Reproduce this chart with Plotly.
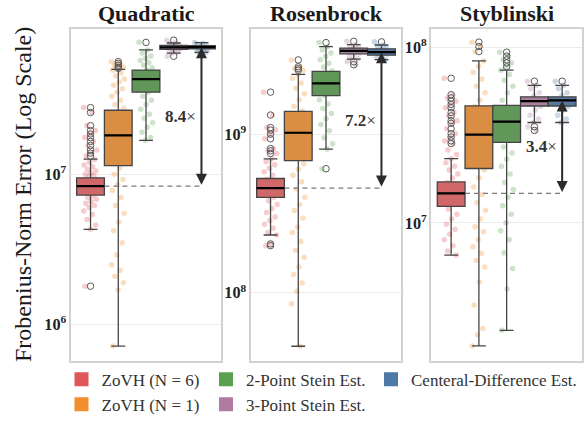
import math
import plotly.graph_objects as go

# ---------------- data ----------------
panel_titles = ["Quadratic", "Rosenbrock", "Styblinski"]
method_names = ["ZoVH (N = 6)", "ZoVH (N = 1)", "2-Point Stein Est.",
                "3-Point Stein Est.", "Centeral-Difference Est."]
speedup_labels = ["8.4", "7.2", "3.4"]

q1_vals = [
    [7.26e6, 1.14e7, 3.51e7, 6.76e7, 6.80e7],
    [3.99e8, 6.81e8, 1.75e9, 3.21e9, 3.15e9],
    [1.24e7, 2.04e7, 2.87e7, 4.63e7, 4.63e7],
]
median_vals = [
    [8.32e6, 1.81e7, 4.28e7, 6.97e7, 6.99e7],
    [4.57e8, 1.02e9, 2.09e9, 3.35e9, 3.29e9],
    [1.47e7, 3.18e7, 3.77e7, 4.93e7, 4.98e7],
]
q3_vals = [
    [9.46e6, 2.66e7, 4.92e7, 7.17e7, 7.15e7],
    [5.25e8, 1.39e9, 2.49e9, 3.49e9, 3.45e9],
    [1.71e7, 4.64e7, 4.67e7, 5.22e7, 5.22e7],
]
lower_whisker = [
    [4.3e6, 7.2e5, 1.68e7, 6.38e7, 6.45e7],
    [2.31e8, 4.59e7, 8.05e8, 2.97e9, 2.95e9],
    [6.55e6, 1.99e6, 2.44e6, 3.73e7, 3.73e7],
]
upper_whisker = [
    [1.26e7, 4.97e7, 6.70e7, 7.45e7, 7.50e7],
    [6.98e8, 2.38e9, 3.56e9, 3.67e9, 3.65e9],
    [2.32e7, 8.36e7, 7.41e7, 6.07e7, 6.07e7],
]

quad_outliers = [
    [2.77e7, 2.57e7, 2.1e7, 1.95e7, 1.85e7, 1.75e7, 1.65e7, 1.55e7, 1.45e7, 1.38e7, 1.32e7, 1.8e6],
    [5.6e7, 5.45e7, 5.3e7, 5.15e7, 5.05e7],
    [7.52e7],
    [7.78e7, 6.08e7],
    [],
]
rosen_outliers = [
    [1.84e9, 1.32e9, 1.10e9, 1.06e9, 1.0e9, 9.35e8, 8.11e8, 7.85e8, 7.55e8, 2.03e8, 1.98e8],
    [2.94e9, 2.66e9, 2.59e9, 2.53e9],
    [3.78e9, 6.05e8],
    [3.85e9, 2.86e9, 2.74e9],
    [3.82e9],
]
styb_outliers = [
    [6.66e7, 5.37e7, 5.15e7, 4.93e7, 4.72e7, 4.53e7, 4.25e7, 4.07e7, 3.82e7, 3.69e7,
     3.43e7, 3.22e7, 3.08e7, 2.93e7, 2.83e7],
    [1.07e8, 1.01e8, 9.45e7],
    [9.38e7, 8.91e7, 8.49e7, 8.14e7, 7.74e7],
    [6.41e7, 3.53e7, 3.36e7],
    [6.41e7],
]

quad_points = [
    [2.77e7, 2.57e7, 2.1e7, 1.95e7, 1.85e7, 1.75e7, 1.65e7, 1.55e7, 1.45e7, 1.38e7, 1.32e7,
     1.25e7, 1.2e7, 1.15e7, 1.12e7, 1.08e7, 1.05e7, 1.02e7, 1.0e7, 9.8e6, 9.6e6, 9.2e6, 8.8e6,
     8.5e6, 8.1e6, 7.8e6, 7.5e6, 7.2e6, 7.0e6, 6.8e6, 6.6e6, 6.4e6, 6.2e6, 6.0e6, 5.7e6,
     5.4e6, 5.0e6, 4.6e6, 4.3e6, 1.8e6],
    [5.6e7, 5.45e7, 5.3e7, 5.15e7, 5.05e7, 4.9e7, 4.7e7, 4.5e7, 4.3e7, 4.1e7, 3.9e7, 3.7e7,
     3.5e7, 3.3e7, 3.1e7, 2.9e7, 2.75e7, 2.5e7, 2.2e7, 1.9e7, 1.6e7, 1.3e7, 1.1e7, 1.0e7,
     9.2e6, 8.5e6, 7.8e6, 7.0e6, 6.2e6, 5.5e6, 4.8e6, 4.2e6, 3.5e6, 2.9e6, 2.5e6, 2.3e6,
     2.1e6, 1.9e6, 1.7e6, 7.2e5],
    [7.52e7, 6.7e7, 6.4e7, 6.1e7, 5.9e7, 5.7e7, 5.5e7, 5.3e7, 5.1e7, 4.9e7, 4.6e7, 4.3e7,
     4.0e7, 3.7e7, 3.5e7, 3.3e7, 3.1e7, 2.9e7, 2.7e7, 2.5e7, 2.35e7, 2.2e7, 2.05e7, 1.9e7,
     1.75e7, 1.68e7],
    [7.78e7, 7.5e7, 7.4e7, 7.3e7, 7.2e7, 7.1e7, 7.0e7, 6.9e7, 6.8e7, 6.7e7, 6.6e7, 6.5e7,
     6.4e7, 6.08e7],
    [7.5e7, 7.4e7, 7.3e7, 7.2e7, 7.1e7, 7.0e7, 6.9e7, 6.8e7, 6.7e7, 6.6e7, 6.5e7, 6.45e7],
]
rosen_points = [
    [1.84e9, 1.32e9, 1.10e9, 1.06e9, 1.0e9, 9.35e8, 8.11e8, 7.85e8, 7.55e8, 6.98e8, 6.7e8,
     6.4e8, 6.1e8, 5.8e8, 5.5e8, 5.2e8, 4.9e8, 4.6e8, 4.3e8, 4.0e8, 3.8e8, 3.6e8, 3.4e8,
     3.2e8, 3.0e8, 2.85e8, 2.7e8, 2.55e8, 2.4e8, 2.31e8, 2.03e8, 1.98e8],
    [2.94e9, 2.66e9, 2.59e9, 2.53e9, 2.38e9, 2.25e9, 2.1e9, 1.95e9, 1.8e9, 1.65e9, 1.5e9,
     1.4e9, 1.2e9, 1.0e9, 8.5e8, 7.0e8, 6.5e8, 6.0e8, 5.5e8, 5.0e8, 4.5e8, 4.0e8, 3.6e8,
     3.3e8, 2.95e8, 2.6e8, 2.4e8, 2.1e8, 1.85e8, 1.67e8, 1.45e8, 1.3e8, 1.15e8, 1.02e8,
     8.5e7, 4.59e7],
    [3.78e9, 3.56e9, 3.4e9, 3.25e9, 3.1e9, 2.95e9, 2.8e9, 2.65e9, 2.5e9, 2.3e9, 2.1e9,
     1.9e9, 1.75e9, 1.65e9, 1.55e9, 1.45e9, 1.35e9, 1.25e9, 1.15e9, 1.05e9, 9.5e8, 8.7e8,
     8.05e8, 6.05e8],
    [3.85e9, 3.67e9, 3.6e9, 3.52e9, 3.45e9, 3.4e9, 3.35e9, 3.3e9, 3.25e9, 3.2e9, 3.1e9,
     3.0e9, 2.97e9, 2.86e9, 2.74e9],
    [3.82e9, 3.65e9, 3.58e9, 3.5e9, 3.43e9, 3.37e9, 3.3e9, 3.25e9, 3.2e9, 3.12e9, 3.05e9,
     2.95e9],
]
styb_points = [
    [6.66e7, 5.37e7, 5.15e7, 4.93e7, 4.72e7, 4.53e7, 4.25e7, 4.07e7, 3.82e7, 3.69e7, 3.43e7,
     3.22e7, 3.08e7, 2.93e7, 2.83e7, 2.6e7, 2.45e7, 2.32e7, 2.2e7, 2.1e7, 2.0e7, 1.9e7,
     1.8e7, 1.7e7, 1.6e7, 1.5e7, 1.4e7, 1.3e7, 1.2e7, 1.12e7, 1.05e7, 9.8e6, 9.2e6, 8.6e6,
     8.0e6, 7.4e6, 6.9e6, 6.55e6],
    [1.07e8, 1.01e8, 9.45e7, 8.36e7, 7.8e7, 7.2e7, 6.6e7, 6.0e7, 5.5e7, 5.0e7, 4.6e7, 4.0e7,
     3.5e7, 3.0e7, 2.6e7, 2.2e7, 2.0e7, 1.8e7, 1.6e7, 1.45e7, 1.3e7, 1.18e7, 1.05e7, 9.5e6,
     8.9e6, 8.0e6, 7.3e6, 6.7e6, 6.1e6, 5.6e6, 4.6e6, 3.4e6, 2.5e6, 2.3e6, 1.99e6],
    [9.38e7, 8.91e7, 8.49e7, 8.14e7, 7.74e7, 7.41e7, 7.0e7, 6.5e7, 6.0e7, 5.5e7, 5.0e7,
     4.5e7, 4.0e7, 3.5e7, 3.0e7, 2.7e7, 2.5e7, 2.3e7, 2.1e7, 1.9e7, 1.7e7, 1.55e7, 1.4e7,
     1.25e7, 1.12e7, 1.0e7, 9.0e6, 8.0e6, 6.75e6, 5.5e6, 4.2e6, 2.44e6],
    [6.41e7, 6.07e7, 5.8e7, 5.5e7, 5.3e7, 5.1e7, 4.95e7, 4.8e7, 4.6e7, 4.4e7, 4.1e7, 3.9e7,
     3.73e7, 3.53e7, 3.36e7],
    [6.41e7, 6.07e7, 5.8e7, 5.5e7, 5.3e7, 5.1e7, 4.95e7, 4.8e7, 4.6e7, 4.4e7, 4.1e7, 3.9e7,
     3.73e7],
]

outliers_by_panel = [quad_outliers, rosen_outliers, styb_outliers]
points_by_panel = [quad_points, rosen_points, styb_points]

# ---------------- styling ----------------
legend_colors = ["#E15759", "#F28E2B", "#59A14F", "#B07AA1", "#4E79A7"]
point_colors = ["rgba(225,87,89,0.3)", "rgba(242,142,43,0.3)", "rgba(89,161,79,0.3)",
                "rgba(176,122,161,0.3)", "rgba(78,121,167,0.3)"]
box_colors = ["#D0686A", "#D98E44", "#619759", "#A9819E", "#59799C"]
SERIF = "Liberation Serif"
W, H = 586, 423
x_doms = [(70.7 / W, 221.3 / W), (250.7 / W, 401.3 / W), (431.3 / W, 582.0 / W)]
y_dom = ((H - 369.0) / H, (H - 29.5) / H)
y_ranges = [(5.757, 7.966), (7.568, 9.664), (6.212, 8.105)]
x_range = [-0.715, 4.715]

fig = go.Figure()

def ax_ids(p):
    base_x = "x" if p == 0 else f"x{p+1}"
    base_y = "y" if p == 0 else f"y{p+1}"
    return base_x, base_y, f"x{p+4}", f"y{p+4}"

# jittered strip points (base subplots, drawn below boxes)
for p in range(3):
    bx, by, ox, oy = ax_ids(p)
    for m in range(5):
        vals = points_by_panel[p][m]
        xs = [m + (((k * 0.61803398875) % 1.0) - 0.5) * 0.5 for k in range(len(vals))]
        fig.add_trace(go.Scatter(x=xs, y=vals, mode="markers", xaxis=bx, yaxis=by,
                                 marker=dict(size=5.5, color=point_colors[m]),
                                 showlegend=False, hoverinfo="skip"))

# boxes, medians, outliers, reference line (overlay subplots)
for p in range(3):
    bx, by, ox, oy = ax_ids(p)
    for m in range(5):
        fig.add_trace(go.Box(
            x=[m], q1=[q1_vals[p][m]], median=[median_vals[p][m]], q3=[q3_vals[p][m]],
            lowerfence=[lower_whisker[p][m]], upperfence=[upper_whisker[p][m]],
            xaxis=ox, yaxis=oy, width=1.0, whiskerwidth=0.5, boxpoints=False,
            fillcolor=box_colors[m], line=dict(color="#444444", width=1.3),
            showlegend=False, hoverinfo="skip"))
    for m in range(5):
        med = median_vals[p][m]
        fig.add_trace(go.Scatter(x=[m - 0.5, m + 0.5], y=[med, med], mode="lines",
                                 xaxis=ox, yaxis=oy, line=dict(color="black", width=2.2),
                                 showlegend=False, hoverinfo="skip"))
        outs = outliers_by_panel[p][m]
        if outs:
            fig.add_trace(go.Scatter(x=[m] * len(outs), y=outs, mode="markers",
                                     xaxis=ox, yaxis=oy,
                                     marker=dict(symbol="circle-open", size=6.5, color="#5a5a5a",
                                                 line=dict(width=1)),
                                     showlegend=False, hoverinfo="skip"))
    ref = median_vals[p][0]
    fig.add_trace(go.Scatter(x=[0.5, 4.0], y=[ref, ref], mode="lines", xaxis=ox, yaxis=oy,
                             line=dict(color="#7a7a7a", width=1.3, dash="5px,4px"),
                             showlegend=False, hoverinfo="skip"))

# legend entries (three column legends)
legend_groups = ["legend", "legend", "legend2", "legend2", "legend3"]
for m in range(5):
    fig.add_trace(go.Scatter(x=[None], y=[None], mode="markers", name=method_names[m],
                             marker=dict(symbol="square", size=14, color=legend_colors[m]),
                             legend=legend_groups[m], showlegend=True))

annotations = []
for p in range(3):
    bx, by, ox, oy = ax_ids(p)
    lo = math.log10(median_vals[p][0])
    hi = math.log10(median_vals[p][4])
    annotations.append(dict(x=4, y=hi, ax=4, ay=lo, xref=bx, yref=by, axref=bx, ayref=by,
                            text="", showarrow=True, arrowhead=2, startarrowhead=2,
                            arrowside="end+start", arrowwidth=2, arrowsize=1.1,
                            startarrowsize=1.1, arrowcolor="#2b2b2b"))
    annotations.append(dict(x=3.25, y=(lo + hi) / 2, xref=bx, yref=by, showarrow=False,
                            xanchor="center", yanchor="middle",
                            text=f"<b>{speedup_labels[p]}</b>×",
                            font=dict(family=SERIF, size=17, color="#333333")))
    annotations.append(dict(x=(x_doms[p][0] + x_doms[p][1]) / 2, y=(H - 14) / H,
                            xref="paper", yref="paper", showarrow=False,
                            text=f"<b>{panel_titles[p]}</b>", xanchor="center",
                            yanchor="middle",
                            font=dict(family=SERIF, size=22, color="#1a1a1a")))
annotations.append(dict(x=23 / W, y=(y_dom[0] + y_dom[1]) / 2, xref="paper", yref="paper",
                        showarrow=False, textangle=-90, xanchor="center", yanchor="middle",
                        text="Frobenius-Norm Error (Log Scale)",
                        font=dict(family=SERIF, size=24, color="#1a1a1a")))

layout = dict(
    width=W, height=H, margin=dict(l=0, r=0, t=0, b=0),
    paper_bgcolor="white", plot_bgcolor="white",
    boxmode="overlay", boxgap=0, boxgroupgap=0,
    annotations=annotations,
    font=dict(family=SERIF),
)
tick_font = dict(family=SERIF, size=13, color="#222222", weight="bold")
for p in range(3):
    bx, by, ox, oy = ax_ids(p)
    bxk = "xaxis" if p == 0 else f"xaxis{p+1}"
    byk = "yaxis" if p == 0 else f"yaxis{p+1}"
    layout[bxk] = dict(domain=list(x_doms[p]), anchor=by, range=x_range, showgrid=False,
                       zeroline=False, showticklabels=False, ticks="", showline=True,
                       mirror=True, linecolor="#d2d2d2", linewidth=1.8, fixedrange=True)
    layout[byk] = dict(domain=list(y_dom), anchor=bx, type="log", range=list(y_ranges[p]),
                       dtick=1, exponentformat="power", showexponent="all",
                       showgrid=True, gridcolor="#ececec", gridwidth=1, zeroline=False,
                       ticks="", showline=True, mirror=True, linecolor="#d2d2d2",
                       linewidth=1.8, tickfont=tick_font, fixedrange=True)
    layout[f"xaxis{p+4}"] = dict(overlaying=bx, anchor=oy, range=x_range, visible=False,
                                 fixedrange=True)
    layout[f"yaxis{p+4}"] = dict(overlaying=by, anchor=ox, type="log",
                                 range=list(y_ranges[p]), visible=False, fixedrange=True)

leg_font = dict(family=SERIF, size=17, color="#333333")
leg_y = (H - 369.5) / H
for key, xpx in (("legend", 61.5), ("legend2", 206), ("legend3", 371)):
    layout[key] = dict(x=xpx / W, y=leg_y, xanchor="left", yanchor="top", orientation="v",
                       font=leg_font, bgcolor="rgba(0,0,0,0)", tracegroupgap=0)

fig.update_layout(**layout)
fig.write_html("out.html", config={"displayModeBar": False},
               post_script="document.body.style.margin='0';document.body.style.overflow='hidden';")
